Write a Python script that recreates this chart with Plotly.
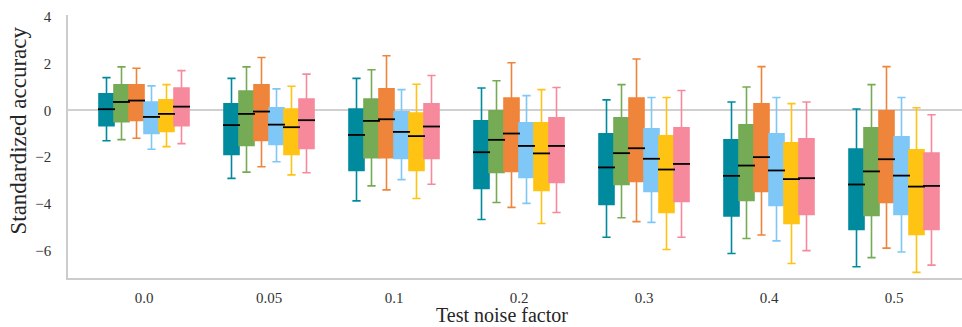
import plotly.graph_objects as go

categories = ["0.0", "0.05", "0.1", "0.2", "0.3", "0.4", "0.5"]
series_names = ["A", "B", "C", "D", "E", "F"]
colors = ["#008a9e", "#76ab56", "#ef843b", "#7fc7f6", "#ffc314", "#f7899c"]

# per series: lists over categories
upper = [
    [1.40, 1.37, 1.37, 0.96, 0.45, 0.36, 0.06],
    [1.86, 1.86, 1.74, 1.27, 1.10, 1.00, 1.10],
    [1.80, 2.26, 2.34, 2.04, 2.20, 1.87, 1.87],
    [1.05, 0.92, 0.89, 0.63, 0.55, 0.55, 0.55],
    [1.10, 1.03, 1.12, 0.89, 0.55, 0.29, 0.11],
    [1.70, 1.55, 1.49, 0.98, 0.85, 0.36, -0.19],
]
q3 = [
    [0.71, 0.28, 0.06, -0.45, -1.00, -1.26, -1.65],
    [1.09, 0.83, 0.49, -0.02, -0.32, -0.62, -0.75],
    [1.09, 1.09, 0.92, 0.53, 0.53, 0.28, -0.02],
    [0.36, 0.11, -0.06, -0.53, -0.79, -1.00, -1.13],
    [0.45, 0.06, -0.11, -0.53, -1.09, -1.39, -1.69],
    [0.95, 0.49, 0.28, -0.32, -0.75, -1.22, -1.82],
]
median = [
    [0.05, -0.63, -1.05, -1.79, -2.44, -2.80, -3.17],
    [0.36, -0.15, -0.45, -1.26, -1.83, -2.36, -2.61],
    [0.42, -0.05, -0.38, -0.99, -1.62, -2.00, -2.09],
    [-0.28, -0.61, -0.92, -1.52, -2.07, -2.57, -2.79],
    [-0.15, -0.72, -1.10, -1.84, -2.53, -2.94, -3.26],
    [0.16, -0.42, -0.69, -1.52, -2.29, -2.90, -3.23],
]
q1 = [
    [-0.65, -1.89, -2.57, -3.34, -4.02, -4.52, -5.09],
    [-0.48, -1.50, -2.02, -2.66, -3.17, -3.85, -4.49],
    [-0.43, -1.29, -2.02, -2.61, -3.04, -3.47, -3.94],
    [-0.99, -1.46, -2.06, -2.87, -3.47, -4.07, -4.45],
    [-0.90, -1.89, -2.57, -3.43, -4.37, -4.84, -5.31],
    [-0.65, -1.63, -2.06, -3.08, -3.90, -4.45, -5.09],
]
lower = [
    [-1.30, -2.91, -3.87, -4.67, -5.43, -6.12, -6.69],
    [-1.25, -2.64, -3.23, -3.94, -4.59, -5.48, -6.30],
    [-1.19, -2.41, -3.40, -4.15, -4.76, -5.33, -5.89],
    [-1.66, -2.20, -2.96, -3.98, -4.79, -5.58, -6.06],
    [-1.55, -2.76, -3.77, -4.84, -5.95, -6.55, -6.93],
    [-1.42, -2.67, -3.16, -4.37, -5.43, -6.00, -6.62],
]

x_title = "Test noise factor"
y_title = "Standardized accuracy"

box_w = 0.12
n = len(series_names)
font_family = "Liberation Serif, DejaVu Serif, serif"

fig = go.Figure()
for k in range(n):
    off = (k - (n - 1) / 2) * box_w
    xs = [i + off for i in range(len(categories))]
    fig.add_trace(go.Box(
        x=xs, q1=q1[k], median=median[k], q3=q3[k],
        lowerfence=lower[k], upperfence=upper[k],
        width=box_w, name=series_names[k],
        fillcolor=colors[k], line=dict(color=colors[k], width=1.6),
        whiskerwidth=0.55, boxpoints=False, showlegend=False,
        hoverinfo="skip",
    ))

# black median lines
for k in range(n):
    off = (k - (n - 1) / 2) * box_w
    mx, my = [], []
    for i in range(len(categories)):
        c = i + off
        mx += [c - box_w / 2 - 0.008, c + box_w / 2 + 0.008, None]
        my += [median[k][i], median[k][i], None]
    fig.add_trace(go.Scatter(x=mx, y=my, mode="lines",
                             line=dict(color="black", width=1.8),
                             showlegend=False, hoverinfo="skip"))

fig.update_layout(
    width=962, height=327,
    margin=dict(l=68, r=0, t=15, b=49),
    plot_bgcolor="white", paper_bgcolor="white",
    boxmode="overlay",
    font=dict(family=font_family, size=15, color="#333333"),
    annotations=[
        dict(text=x_title, xref="paper", yref="paper", x=0.4855, y=-0.1855,
             xanchor="center", yanchor="bottom", showarrow=False,
             borderpad=0,
             font=dict(size=20, family=font_family, color="#262626")),
        dict(text=y_title, xref="paper", yref="paper", x=-0.055, y=0.56,
             xanchor="center", yanchor="middle", showarrow=False, textangle=-90,
             font=dict(size=23, family=font_family, color="#262626")),
    ],
)
fig.update_xaxes(
    range=[-0.608, 6.544],
    tickvals=list(range(len(categories))), ticktext=categories,
    showgrid=False, zeroline=False,
    showline=True, linecolor="#cccccc", linewidth=1.5,
    ticks="", ticklabelstandoff=5, automargin=False,
)
fig.update_yaxes(
    range=[-7.17, 4.08],
    tickvals=[-6, -4, -2, 0, 2, 4],
    showgrid=False,
    zeroline=True, zerolinecolor="#d0d0d0", zerolinewidth=1.5,
    showline=True, linecolor="#cccccc", linewidth=1.5,
    ticks="", ticklabelstandoff=12, automargin=False,
)

fig.write_html("out.html")
